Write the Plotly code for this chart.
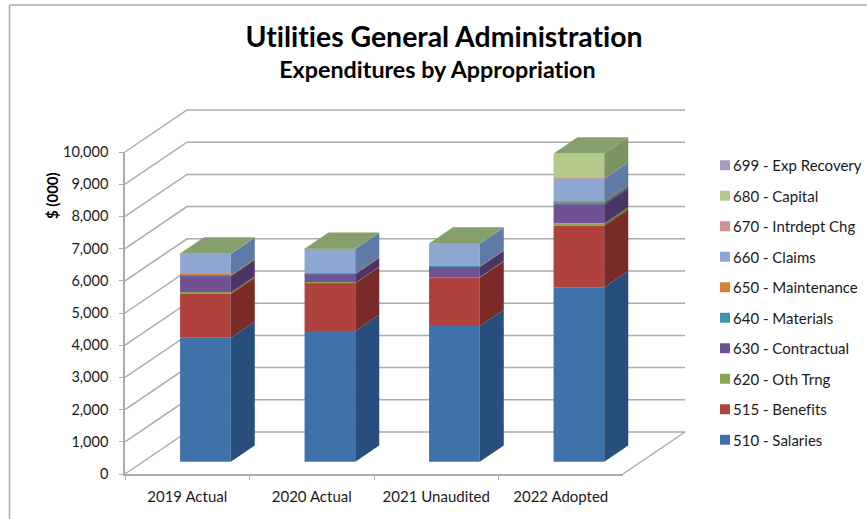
import plotly.graph_objects as go

# ---------- data ----------
categories = ["2019 Actual", "2020 Actual", "2021 Unaudited", "2022 Adopted"]
tick_values = [0, 1000, 2000, 3000, 4000, 5000, 6000, 7000, 8000, 9000, 10000]

series_names = ["510 - Salaries", "515 - Benefits", "620 - Oth Trng", "630 - Contractual",
                "640 - Materials", "650 - Maintenance", "660 - Claims", "670 - Intrdept Chg",
                "680 - Capital", "699 - Exp Recovery"]
salaries = [3850, 4060, 4215, 5415]
benefits = [1360, 1480, 1500, 1915]
oth_trng = [40, 10, 10, 70]
contractual = [510, 270, 320, 590]
materials = [10, 5, 5, 60]
maintenance = [30, 20, 15, 45]
claims = [650, 760, 700, 695]
intrdept = [0, 0, 0, 5]
capital = [15, 10, 10, 780]
exp_recovery = [0, 0, 0, 0]
series_values = [salaries, benefits, oth_trng, contractual, materials,
                 maintenance, claims, intrdept, capital, exp_recovery]

# ---------- colours ----------
front_colors = ["#3F72AA", "#AF423C", "#8AA64C", "#705294", "#3F95AC",
                "#DA7F33", "#8EA6D2", "#D09291", "#B4CA8A", "#A99BBD"]
side_colors = ["#274E7C", "#7A2B28", "#5F7334", "#4A3566", "#2A6878",
               "#985924", "#5E7AA6", "#916665", "#7E9460", "#766C84"]
top_color = "#86A06C"
grid_color = "#ABABAB"
frame_color = "#ABABAB"
text_color = "#1A1A1A"
FONT = "Lato"

# ---------- layout geometry (oblique projection of the 3-D box) ----------
W, H = 867, 519
X0, X_STEP = 125.0, 124.5        # front-left corner, px per category
Y0, Y_SCALE = 474.0, 0.0322      # zero line, px per value unit
DEPTH_PX = (62.0, 42.0)          # how far the back wall is shifted
DX = DEPTH_PX[0] / X_STEP        # in category units
DY = DEPTH_PX[1] / Y_SCALE       # in value units
BAR_WIDTH = 50.7 / X_STEP
T_FRONT, T_BACK = 0.293, 0.68    # depth position of bar faces


def project(pos, value, t):
    return pos + t * DX, value + t * DY


x_range = [-0.5 - X0 / X_STEP, -0.5 + (W - X0) / X_STEP]
y_range = [(Y0 - H) / Y_SCALE, Y0 / Y_SCALE]
n = len(categories)

# running totals under every series
starts = []
cum = [0.0] * n
for values in series_values:
    starts.append(list(cum))
    cum = [c + v for c, v in zip(cum, values)]

fig = go.Figure()

# walls and floor, behind the bars
wx, wy = [], []
for v in tick_values:
    for pos, val, t in [(-0.5, v, 0), (-0.5, v, 1), (n - 0.5, v, 1)]:
        px_, py_ = project(pos, val, t)
        wx.append(px_)
        wy.append(py_)
    if v == 0:
        px_, py_ = project(n - 0.5, 0, 0)
        wx.append(px_)
        wy.append(py_)
    wx.append(None)
    wy.append(None)
fig.add_trace(go.Scatter(x=wx, y=wy, mode="lines", line=dict(color=grid_color, width=1.5),
                         showlegend=False, hoverinfo="skip", xaxis="x", yaxis="y"))

# bar fronts and sides; top series first so that the legend reads top-down like the stack
for k in reversed(range(len(series_names))):
    name, values, fc, sc, start = series_names[k], series_values[k], front_colors[k], side_colors[k], starts[k]
    xs, bases = [], []
    sx, sy = [], []
    for i, v in enumerate(values):
        fx, fb = project(i, start[i], T_FRONT)
        xs.append(fx)
        bases.append(fb)
        if v > 0:
            right = i + BAR_WIDTH / 2
            for val, t in [(start[i], T_FRONT), (start[i] + v, T_FRONT), (start[i] + v, T_BACK),
                           (start[i], T_BACK), (start[i], T_FRONT)]:
                p, q = project(right, val, t)
                sx.append(p)
                sy.append(q)
            sx.append(None)
            sy.append(None)
    if sx:
        fig.add_trace(go.Scatter(x=sx, y=sy, mode="lines", fill="toself", fillcolor=sc,
                                 line=dict(width=0, color=sc), showlegend=False, hoverinfo="skip",
                                 xaxis="x2", yaxis="y2"))
    fig.add_trace(go.Bar(x=xs, y=values, base=bases, width=BAR_WIDTH, name=name, legendgroup=name,
                         marker=dict(color=fc, line=dict(width=0)), xaxis="x2", yaxis="y2"))

# bar tops
tx, ty = [], []
for i, total in enumerate(cum):
    l, r = i - BAR_WIDTH / 2, i + BAR_WIDTH / 2
    for pos, t in [(l, T_FRONT), (r, T_FRONT), (r, T_BACK), (l, T_BACK), (l, T_FRONT)]:
        p, q = project(pos, total, t)
        tx.append(p)
        ty.append(q)
    tx.append(None)
    ty.append(None)
fig.add_trace(go.Scatter(x=tx, y=ty, mode="lines", fill="toself", fillcolor=top_color,
                         line=dict(width=0, color=top_color), showlegend=False, hoverinfo="skip",
                         xaxis="x2", yaxis="y2"))

# visible axes on the front plane
fig.add_trace(go.Scatter(x=categories, y=[0] * n, mode="markers", marker=dict(opacity=0, size=1),
                         showlegend=False, hoverinfo="skip", xaxis="x3", yaxis="y3"))

hidden = dict(visible=False, domain=[0, 1], fixedrange=True)
axis_line = dict(showline=True, linecolor=grid_color, linewidth=1.5, ticks="outside",
                 tickcolor=grid_color, ticklen=4, tickwidth=1, showgrid=False, zeroline=False)
fig.update_layout(
    width=W, height=H, margin=dict(l=0, r=0, t=0, b=0, autoexpand=False),
    paper_bgcolor="white", plot_bgcolor="rgba(0,0,0,0)", barmode="overlay",
    font=dict(family=FONT, color=text_color),
    xaxis=dict(range=x_range, **hidden),
    yaxis=dict(range=y_range, **hidden),
    xaxis2=dict(range=x_range, overlaying="x", **hidden),
    yaxis2=dict(range=y_range, overlaying="y", **hidden),
    xaxis3=dict(domain=[X0 / W, (X0 + n * X_STEP) / W], anchor="y3", type="category",
                categoryorder="array", categoryarray=categories, range=[-0.5, n - 0.5],
                tickson="boundaries", ticklabelstandoff=8,
                tickfont=dict(family=FONT, size=15, color=text_color), **axis_line),
    yaxis3=dict(domain=[(H - Y0) / H, (H - Y0 + 10000 * Y_SCALE) / H], anchor="x3",
                range=[0, 10000], tickmode="array", tickvals=tick_values,
                tickformat=",d", ticklabelstandoff=8,
                tickfont=dict(family=FONT, size=14.5, color=text_color), **axis_line),
    title=dict(text="<b>Utilities General Administration</b>", x=444 / W, xanchor="center",
               y=1 - 37 / H, yanchor="middle", font=dict(family=FONT, size=28.4, color="black")),
    annotations=[
        dict(text="<b>Expenditures by Appropriation</b>", x=437.5 / W, y=1 - 69 / H, xref="paper",
             yref="paper", showarrow=False, xanchor="center", yanchor="middle",
             font=dict(family=FONT, size=23.3, color="black")),
        dict(text="<b>$ (000)</b>", x=52 / W, y=1 - 196 / H, xref="paper", yref="paper",
             showarrow=False, textangle=-90, xanchor="center", yanchor="middle",
             font=dict(family=FONT, size=15, color="black")),
    ],
    shapes=[
        dict(type="line", xref="paper", yref="paper", x0=9.5 / W, x1=9.5 / W, y0=0, y1=1 - 5 / H,
             line=dict(color=frame_color, width=1.5)),
        dict(type="line", xref="paper", yref="paper", x0=9.5 / W, x1=1, y0=1 - 5 / H, y1=1 - 5 / H,
             line=dict(color=frame_color, width=1.5)),
    ],
    legend=dict(x=693 / W, xanchor="left", y=1 - 149 / H, yanchor="top",
                traceorder="grouped", tracegroupgap=8,
                font=dict(family=FONT, size=15, color=text_color), bgcolor="rgba(0,0,0,0)"),
)

post = """
document.body.style.margin = '0';
document.head.insertAdjacentHTML('beforeend',
  '<style>svg text{font-variant-ligatures:none !important;font-feature-settings:"liga" 0,"clig" 0,"dlig" 0,"calt" 0 !important;}</style>');
var gd = document.getElementById('{plot_id}');
gd.querySelectorAll('.legend .legendpoints').forEach(function (g) {
  g.setAttribute('transform', 'translate(15.4,0) scale(0.83)');
});
"""
fig.write_html("out.html", post_script=post, config={"displayModeBar": False})
